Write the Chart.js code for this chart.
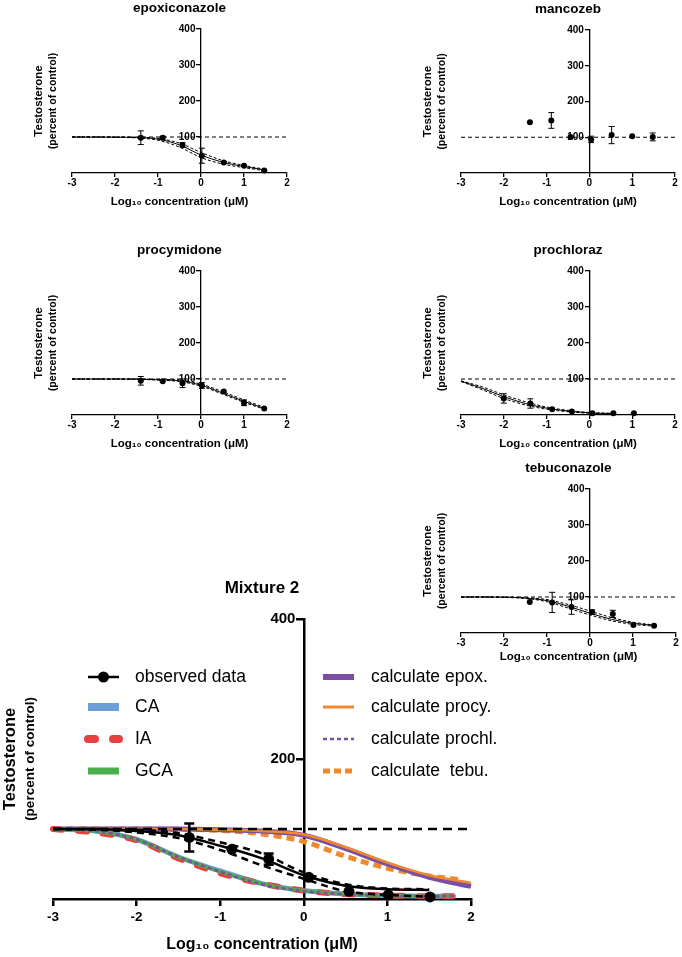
<!DOCTYPE html>
<html>
<head>
<meta charset="utf-8">
<script src="https://cdn.jsdelivr.net/npm/chart.js@4.4.1/dist/chart.umd.min.js"></script>
<style>
  body { margin: 0; background: #fff; }
  #page { position: relative; width: 682px; height: 957px; overflow: hidden; }
  #page canvas { position: absolute; }
</style>
</head>
<body>
<div id="page"></div>
<script>
// ---- data ----
const xTicks = [-3, -2, -1, 0, 1, 2];
const yTicksPanel = [100, 200, 300, 400];
const yTicksMix = [200, 400];
const controlX = [-3, 2];
const controlY = [100, 100];

const fitX = [-3, -2.5, -2, -1.5, -1, -0.5, 0, 0.5, 1, 1.5];

// epoxiconazole
const epoxDose = [-1.40, -0.89, -0.43, 0.02, 0.53, 1.00, 1.47];
const epoxMean = [98, 98, 78, 48, 29, 20, 7];
const epoxSem = [19, 4, 6, 21, 3, 2, 2];
const epoxFit = [100, 100, 99.5, 98.5, 94, 78, 50, 30, 18, 8];
const epoxHi = [100, 100, 100, 99.5, 96, 83, 57, 35, 21, 10];
const epoxLo = [100, 100, 99, 97.5, 91, 72, 43, 25, 15, 6];

// mancozeb
const mancDose = [-1.39, -0.89, -0.44, 0.04, 0.52, 1.00, 1.48];
const mancMean = [142, 147, 101, 94, 106, 103, 101];
const mancSem = [0, 22, 0, 9, 24, 0, 11];

// procymidone
const procyDose = [-1.40, -0.89, -0.43, 0.02, 0.53, 1.00, 1.47];
const procyMean = [95, 94, 88, 82, 65, 34, 18];
const procySem = [12, 0, 12, 8, 0, 8, 0];
const procyFit = [100, 100, 100, 99.5, 98, 95, 83, 61, 38, 17];
const procyHi = [100, 100, 100, 100, 99, 97, 86, 65, 42, 20];
const procyLo = [100, 100, 100, 99, 97, 93, 80, 58, 35, 15];

// prochloraz
const prochX = [-3, -2.5, -2, -1.5, -1, -0.5, 0, 0.5];
const prochDose = [-2.00, -1.38, -0.87, -0.41, 0.07, 0.56, 1.04];
const prochMean = [46, 32, 16, 10, 5, 5, 5];
const prochSem = [13, 13, 0, 0, 0, 0, 0];
const prochFit = [94, 74, 51, 32, 19, 11, 6, 4];
const prochHi = [95, 78, 56, 37, 22, 13, 7, 5];
const prochLo = [93, 70, 46, 28, 16, 9, 5, 3];

// tebuconazole
const tebuDose = [-1.40, -0.88, -0.43, 0.05, 0.53, 1.01, 1.49];
const tebuMean = [86, 85, 72, 58, 53, 22, 20];
const tebuSem = [0, 28, 20, 6, 10, 0, 0];
const tebuFit = [100, 100, 99.5, 97, 90, 74, 55, 38, 27, 21];
const tebuHi = [100, 100, 100, 98, 93, 79, 61, 43, 30, 22];
const tebuLo = [100, 100, 99, 96, 87, 69, 50, 34, 24, 19];

// Mixture 2
const mixDose = [-1.37, -0.86, -0.42, 0.06, 0.54, 1.01, 1.51];
const mixMean = [88, 71, 57, 31, 11, 6, 3];
const mixSem = [20, 0, 8, 0, 0, 0, 0];
const mixFit = [100, 100, 97, 91, 76, 58, 34, 19, 14, 13];
const mixHi = [100, 100, 99, 94, 81, 65, 38, 21, 15, 14];
const mixLo = [100, 99, 95, 87, 70, 48, 29, 11, 6, 3];

const lowX = [-3, -2.5, -2, -1.5, -1, -0.5, 0, 0.5, 1, 1.5, 1.8];
const caY = [100, 97, 85, 60, 40, 22, 12, 7, 5, 4, 4];
const iaY = [100, 95, 84, 58, 37, 22, 12, 7, 5, 4, 4];
const gcaY = [100, 97, 85, 60, 39, 22, 12, 7, 5, 4, 4];
const calcProchlY = [100, 97, 85, 60, 39, 21, 11, 7, 5, 4, 4];

const singleX = [-3, -2.5, -2, -1.5, -1, -0.5, 0, 0.5, 1, 1.5, 2];
const calcEpoxY = [100, 100, 100, 100, 99, 97, 91, 72, 50, 31, 18];
const calcProcyY = [100, 100, 100, 100, 99, 97, 92, 74, 52, 34, 23];
const tebuCalcX = [-3, -2.5, -2, -1.5, -1, -0.5, 0, 0.5, 1, 1.5, 1.9];
const calcTebuY = [100, 100, 100, 99.5, 98, 93, 82, 61, 44, 33, 27];

const legendLeft = ['observed data', 'CA', 'IA', 'GCA'];
const legendRight = ['calculate epox.', 'calculate procy.', 'calculate prochl.', 'calculate  tebu.'];

// ---- helpers ----
Chart.defaults.font.family = "'Liberation Sans', Arial, sans-serif";
Chart.defaults.color = '#000';

const xTitle = 'Log\u2081\u2080 concentration (\u03bcM)';

function pts(xs, ys) {
  return xs.map((x, i) => ({x: x, y: ys[i]}));
}

function curve(label, xs, ys, style) {
  return Object.assign({
    label: label, data: pts(xs, ys), showLine: true, pointRadius: 0,
    borderColor: '#000', borderWidth: 1, fill: false, clip: false,
    cubicInterpolationMode: 'monotone'
  }, style);
}

function observed(label, xs, ys, errs, style) {
  return Object.assign({
    label: label, data: pts(xs, ys), errors: errs, showLine: false,
    backgroundColor: '#000', borderColor: '#000', pointBorderWidth: 0, clip: false
  }, style);
}

const errorBars = {
  id: 'errorBars',
  afterDatasetsDraw(chart) {
    const ctx = chart.ctx;
    const ys = chart.scales.y;
    chart.data.datasets.forEach((ds, i) => {
      if (!ds.errors) return;
      const meta = chart.getDatasetMeta(i);
      ctx.save();
      ctx.strokeStyle = '#000';
      ctx.lineWidth = ds.errorWidth;
      meta.data.forEach((pt, j) => {
        const e = ds.errors[j];
        if (!e) return;
        const v = ds.data[j].y;
        const top = ys.getPixelForValue(v + e);
        const bot = ys.getPixelForValue(v - e);
        const c = ds.errorCap;
        ctx.beginPath();
        ctx.moveTo(pt.x, top); ctx.lineTo(pt.x, bot);
        ctx.moveTo(pt.x - c, top); ctx.lineTo(pt.x + c, top);
        ctx.moveTo(pt.x - c, bot); ctx.lineTo(pt.x + c, bot);
        ctx.stroke();
      });
      ctx.restore();
    });
  }
};
Chart.register(errorBars);

const page = document.getElementById('page');

function labelAxis(text, size, width, centre, weight) {
  const lh = size * 1.2;
  return {
    axis: 'y', type: 'linear', position: 'left', weight: weight,
    afterFit: s => { s.width = width; },
    ticks: {display: false}, grid: {display: false}, border: {display: false},
    title: {display: true, text: text, color: '#000',
            font: {size: size, weight: 'bold', lineHeight: 1.2},
            padding: {top: centre - lh / 2, bottom: 0}}
  };
}

function makeChart(g, datasets, plugins) {
  const [L, T, W, H] = g.box;
  const aT = g.area[1] - T, aR = g.area[2] - L, aB = g.area[3] - T;
  const split = Math.round((g.yt[0] + g.yt[1]) / 2) - L;
  const canvas = document.createElement('canvas');
  canvas.width = W; canvas.height = H;
  canvas.style.left = L + 'px'; canvas.style.top = T + 'px';
  page.appendChild(canvas);

  const tY = g.titleY - T, tlh = g.titleSize * 1.2;
  const xlh = g.xTitleSize * 1.2;

  return new Chart(canvas, {
    type: 'scatter',
    data: {datasets: datasets},
    plugins: plugins || [],
    options: {
      responsive: false, animation: false, devicePixelRatio: 1,
      layout: {padding: {left: 0, top: 0, right: W - aR, bottom: 0}},
      plugins: {
        legend: {display: false},
        tooltip: {enabled: false},
        title: {display: true, text: g.title, fullSize: false, color: '#000',
                font: {size: g.titleSize, weight: 'bold', lineHeight: 1.2},
                padding: {top: tY - tlh / 2, bottom: aT - tY - tlh / 2}}
      },
      scales: {
        x: {
          type: 'linear', position: 'bottom', min: -3, max: 2,
          afterBuildTicks: s => { s.ticks = xTicks.map(v => ({value: v})); },
          afterFit: s => { s.height = H - aB; },
          grid: {drawOnChartArea: false, tickLength: g.tickLen, color: '#000', lineWidth: g.lineW},
          border: {color: '#000', width: g.lineW},
          ticks: {color: '#000', maxRotation: 0, autoSkip: false,
                  font: {size: g.xTickSize, weight: 'bold', lineHeight: 1.2},
                  padding: g.tickGap - g.tickLen - g.xTickSize * 0.6},
          title: {display: true, text: xTitle, color: '#000',
                  font: {size: g.xTitleSize, weight: 'bold', lineHeight: 1.2},
                  padding: {top: 0, bottom: H - (g.xTitleY - T) - xlh / 2}}
        },
        y: {
          type: 'linear', min: 0, max: 400, position: {x: 0},
          afterBuildTicks: s => { s.ticks = g.yTicks.map(v => ({value: v})); },
          grid: {drawOnChartArea: false, tickLength: g.tickLen, color: '#000', lineWidth: g.lineW},
          border: {color: '#000', width: g.lineW},
          // labels of an axis placed at x = 0 end on the axis line; the trailing
          // spaces move them clear of the tick marks
          ticks: {color: '#000', font: {size: g.yTickSize, weight: 'bold'},
                  callback: v => v + '  '}
        },
        yt1: labelAxis('Testosterone', g.ytSize[0], split, g.yt[0] - L, 2),
        yt2: labelAxis('(percent of control)', g.ytSize[1], (g.area[0] - L) - split, g.yt[1] - L - split, 1)
      }
    }
  });
}

function panelSets(dose, mean, sem, fx, fit, hi, lo) {
  const sets = [observed('data', dose, mean, sem, {pointRadius: 3, errorWidth: 1, errorCap: 3, order: 0})];
  if (fit) {
    sets.push(curve('fit', fx, fit, {borderWidth: 1, order: 1}));
    sets.push(curve('upper', fx, hi, {borderWidth: 1, borderDash: [3, 2], order: 1}));
    sets.push(curve('lower', fx, lo, {borderWidth: 1, borderDash: [3, 2], order: 1}));
  }
  sets.push(curve('control', controlX, controlY, {borderWidth: 1, borderDash: [4, 3], order: 2, cubicInterpolationMode: 'default'}));
  return sets;
}

const small = {titleSize: 13.5, xTitleSize: 11.5, ytSize: [11.5, 10.5], yTickSize: 10, xTickSize: 10,
               tickLen: 4, lineW: 1.3, tickGap: 10.5, yTicks: yTicksPanel};

makeChart(Object.assign({}, small, {title: 'epoxiconazole', box: [0, 0, 300, 215], area: [72, 29, 287, 173],
  titleY: 8.5, xTitleY: 202, yt: [39, 53]}),
  panelSets(epoxDose, epoxMean, epoxSem, fitX, epoxFit, epoxHi, epoxLo));

makeChart(Object.assign({}, small, {title: 'mancozeb', box: [360, 0, 322, 215], area: [461, 30, 675, 173],
  titleY: 9.5, xTitleY: 202, yt: [428, 442]}),
  panelSets(mancDose, mancMean, mancSem));

makeChart(Object.assign({}, small, {title: 'procymidone', box: [0, 228, 300, 222], area: [72, 271, 287, 415],
  titleY: 250, xTitleY: 444, yt: [39, 53]}),
  panelSets(procyDose, procyMean, procySem, fitX, procyFit, procyHi, procyLo));

makeChart(Object.assign({}, small, {title: 'prochloraz', box: [360, 228, 322, 222], area: [461, 271, 675, 415],
  titleY: 250, xTitleY: 444, yt: [428, 442]}),
  panelSets(prochDose, prochMean, prochSem, prochX, prochFit, prochHi, prochLo));

makeChart(Object.assign({}, small, {title: 'tebuconazole', box: [360, 452, 322, 214], area: [461, 489, 676, 633],
  titleY: 468, xTitleY: 657, yt: [428, 442]}),
  panelSets(tebuDose, tebuMean, tebuSem, fitX, tebuFit, tebuHi, tebuLo));

// ---- Mixture 2 ----
const mixLegend = {
  id: 'mixLegend',
  afterDraw(chart) {
    const ctx = chart.ctx;
    const cols = [{x: 88, tx: 135, labels: legendLeft}, {x: 323, tx: 371, labels: legendRight}];
    const rows = [107, 137, 169, 201];
    cols.forEach(col => col.labels.forEach((label, r) => {
      const ds = chart.data.datasets.find(d => d.label === label);
      const y = rows[r];
      ctx.save();
      ctx.strokeStyle = ds.borderColor;
      ctx.lineWidth = ds.legendWidth || ds.borderWidth;
      ctx.lineCap = ds.borderCapStyle || 'butt';
      ctx.setLineDash(ds.legendDash || ds.borderDash || []);
      ctx.beginPath();
      ctx.moveTo(col.x, y);
      ctx.lineTo(col.x + 31, y);
      ctx.stroke();
      if (ds.errors) {
        ctx.fillStyle = ds.backgroundColor;
        ctx.beginPath();
        ctx.arc(col.x + 15.5, y, ds.pointRadius, 0, Math.PI * 2);
        ctx.fill();
      }
      ctx.fillStyle = '#000';
      ctx.font = "17.5px 'Liberation Sans', Arial, sans-serif";
      ctx.textBaseline = 'middle';
      ctx.textAlign = 'left';
      ctx.fillText(label, col.tx, y);
      ctx.restore();
    }));
  }
};

const purple = '#7b4ea3';
const orange = '#f0892b';

makeChart({title: 'Mixture 2', titleSize: 17, box: [0, 570, 512, 387], area: [53, 619, 471, 899],
  titleY: 588, xTitleY: 945, xTitleSize: 16, yt: [10, 30], ytSize: [16.5, 13.5],
  yTickSize: 15, xTickSize: 13.5, tickLen: 7, lineW: 2.5, tickGap: 18, yTicks: yTicksMix},
  [
    observed('observed data', mixDose, mixMean, mixSem, {pointRadius: 5.5, errorWidth: 2.5, errorCap: 5, legendWidth: 2.5, order: 0}),
    curve('obs fit', fitX, mixFit, {borderWidth: 2.5, order: 1}),
    curve('obs upper', fitX, mixHi, {borderWidth: 2.5, borderDash: [7, 5], order: 1}),
    curve('obs lower', fitX, mixLo, {borderWidth: 2.5, borderDash: [7, 5], order: 1}),
    curve('control', controlX, controlY, {borderWidth: 2.5, borderDash: [9, 6], order: 2, cubicInterpolationMode: 'default'}),
    curve('calculate prochl.', lowX, calcProchlY, {borderColor: purple, borderWidth: 2.5, borderDash: [4, 3], order: 3}),
    curve('GCA', lowX, gcaY, {borderColor: '#4cae4c', borderWidth: 3.5, legendWidth: 7, order: 4}),
    curve('IA', lowX, iaY, {borderColor: '#e8403f', borderWidth: 6, borderDash: [9, 16], borderCapStyle: 'round',
                            legendWidth: 8, legendDash: [7, 18], order: 5}),
    curve('CA', lowX, caY, {borderColor: '#6a9fd8', borderWidth: 5, legendWidth: 8, order: 6}),
    curve('calculate procy.', singleX, calcProcyY, {borderColor: orange, borderWidth: 2.5, legendWidth: 3, order: 7}),
    curve('calculate epox.', singleX, calcEpoxY, {borderColor: purple, borderWidth: 5, legendWidth: 6, order: 8}),
    curve('calculate  tebu.', tebuCalcX, calcTebuY, {borderColor: orange, borderWidth: 5, borderDash: [8, 5],
                                                     legendDash: [7, 4], order: 9})
  ],
  [mixLegend]);
</script>
</body>
</html>
